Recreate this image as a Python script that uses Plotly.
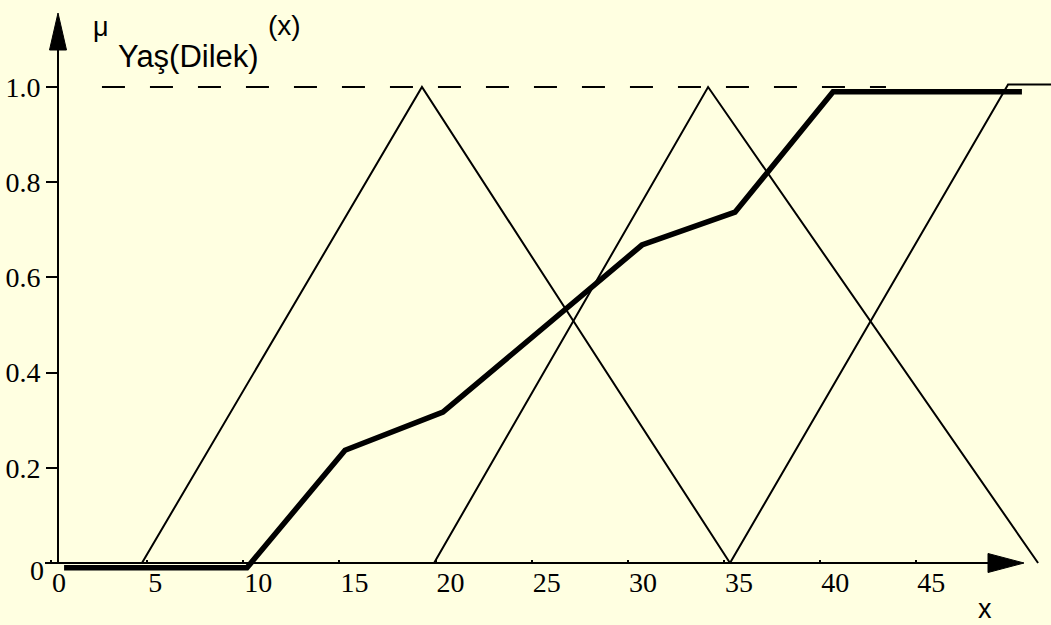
import plotly.graph_objects as go

# ---------------- data ----------------
tri1_x = [4.73, 19.29, 35.31]
tri1_y = [0.0, 1.0, 0.0]
tri2_x = [19.92, 34.17, 51.33]
tri2_y = [0.0, 1.0, 0.0]
tri3_x = [35.31, 49.77, 52.6]
tri3_y = [0.0, 1.005, 1.005]
thick_x = [0.68, 10.19, 15.29, 20.38, 30.73, 35.57, 40.67, 50.49]
thick_y = [-0.01, -0.01, 0.237, 0.317, 0.668, 0.737, 0.99, 0.99]
ref_x = [2.65, 43.42]
ref_y = [1.0, 1.0]

x_tickvals = [0, 5, 10, 15, 20, 25, 30, 35, 40, 45]
x_ticktext = ["0", "5", "10", "15", "20", "25", "30", "35", "40", "45"]
y_tickvals = [0, 0.2, 0.4, 0.6, 0.8, 1.0]
y_ticktext = ["", "0.2", "0.4", "0.6", "0.8", "1.0"]
y_zero_label = "0"

# ---------------- geometry ----------------
W, H = 1051, 625
ML, MR, MT, MB = 30, 0, 5, 15
X0PX, XS = 51.0, 19.23     # pixel of x=0, pixels per unit
Y0PX, YS = 563.0, 476.0    # pixel of y=0, pixels per unit
plot_w = W - ML - MR
plot_h = H - MT - MB


def dx(px):
    return (px - X0PX) / XS


def dy(py):
    return (Y0PX - py) / YS


def paper_x(px):
    return (px - ML) / plot_w


def paper_y(py):
    return (H - MB - py) / plot_h


xr = [dx(ML), dx(W - MR)]
yr = [dy(H - MB), dy(MT)]

BG = "#FFFFE1"
INK = "black"
SERIF = "'Liberation Serif', 'Times New Roman', serif"
SANS = "'Liberation Sans', Arial, sans-serif"

fig = go.Figure()
for xs, ys in [(tri1_x, tri1_y), (tri2_x, tri2_y), (tri3_x, tri3_y)]:
    fig.add_trace(go.Scatter(x=xs, y=ys, mode="lines",
                             line=dict(color=INK, width=2), showlegend=False,
                             hoverinfo="skip"))
fig.add_trace(go.Scatter(x=ref_x, y=ref_y, mode="lines",
                         line=dict(color=INK, width=2, dash="23px,25px"),
                         showlegend=False, hoverinfo="skip"))
fig.add_trace(go.Scatter(x=thick_x, y=thick_y, mode="lines",
                         line=dict(color=INK, width=5.5), showlegend=False,
                         hoverinfo="skip"))

shapes = [
    # x axis line + arrow head
    dict(type="line", xref="x", yref="y", x0=dx(45), x1=dx(992), y0=0, y1=0,
         line=dict(color=INK, width=2)),
    dict(type="path", xref="x", yref="y",
         path=f"M {dx(988)},{dy(553.5)} L {dx(1024)},{dy(563)} L {dx(988)},{dy(572.5)} Z",
         fillcolor=INK, line=dict(color=INK, width=1)),
    # y axis line + arrow head
    dict(type="line", xref="x", yref="y", x0=dx(58), x1=dx(58), y0=0, y1=dy(48),
         line=dict(color=INK, width=2)),
    dict(type="path", xref="x", yref="y",
         path=f"M {dx(49.5)},{dy(50)} L {dx(58)},{dy(13)} L {dx(66.5)},{dy(50)} Z",
         fillcolor=INK, line=dict(color=INK, width=1)),
]


def ann(text, px, py, size, family=SANS, xanchor="left"):
    return dict(text=text, x=paper_x(px), y=paper_y(py), xref="paper",
                yref="paper", xanchor=xanchor, yanchor="middle",
                showarrow=False, font=dict(family=family, size=size, color=INK))


annotations = [
    ann("μ", 91, 27, 27),
    ann("Yaş(Dilek)", 116, 56, 31),
    ann("(x)", 266, 25, 28),
    ann("x", 976, 609, 27),
    ann(y_zero_label, 46, 570, 28, family=SERIF, xanchor="right"),
]

fig.update_layout(
    width=W, height=H,
    margin=dict(l=ML, r=MR, t=MT, b=MB),
    paper_bgcolor=BG, plot_bgcolor=BG,
    font=dict(family=SERIF, color=INK),
    shapes=shapes, annotations=annotations,
    xaxis=dict(range=xr, anchor="free", position=(H - MB - Y0PX) / plot_h,
               showgrid=False, zeroline=False, showline=False,
               tickvals=x_tickvals, ticktext=x_ticktext,
               ticks="inside", ticklen=3, tickwidth=2, tickcolor=INK,
               ticklabelposition="outside right",
               tickfont=dict(family=SERIF, size=28, color=INK),
               fixedrange=True),
    yaxis=dict(range=yr, anchor="free", position=(58 - ML) / plot_w,
               showgrid=False, zeroline=False, showline=False,
               tickvals=y_tickvals, ticktext=y_ticktext,
               ticks="outside", ticklen=12, tickwidth=2, tickcolor=INK,
               tickfont=dict(family=SERIF, size=28, color=INK),
               fixedrange=True),
)

fig.write_html(
    "out.html",
    config={"displayModeBar": False},
    post_script="document.body.style.margin='0';document.body.style.overflow='hidden';"
                "document.body.style.background='" + BG + "';",
)
